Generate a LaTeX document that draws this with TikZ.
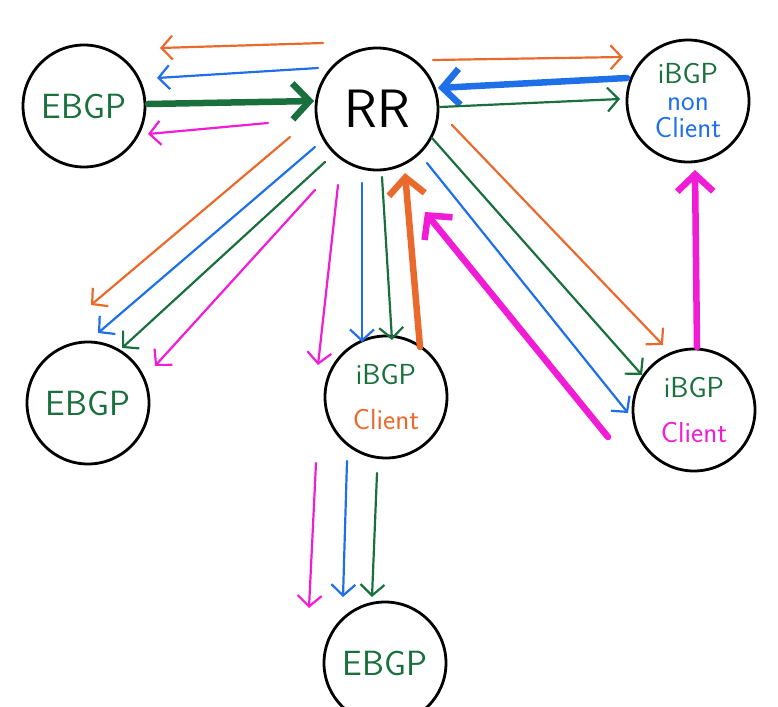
\documentclass[tikz,border=0pt]{standalone}
\usetikzlibrary{arrows.meta}
\definecolor{C0}{HTML}{1E6FE8}
\definecolor{C1}{HTML}{EA6A2E}
\definecolor{C2}{HTML}{19703C}
\definecolor{C6}{HTML}{F01CD6}
\newcommand{\bigfont}{\sffamily\fontsize{35}{38}\selectfont}
\newcommand{\smallfont}{\sffamily\fontsize{29}{27}\selectfont}
\tikzset{
    bubble/.style = {circle, draw, line width = 2.8pt, minimum size = 122pt, inner sep = 0pt, align = center},
    adv/.style = {-{Straight Barb[length=11pt,width=24pt]}, line width = 2.2pt, line cap = round},
    bigadv/.style = {-{Straight Barb[length=17pt,width=36pt]}, line width = 6.5pt, line cap = round},
}

\begin{document}
\begin{tikzpicture}[x=1pt, y=-1pt]
    \useasboundingbox (0,0) rectangle (778,706);
    \clip (0,0) rectangle (778,706);
        % routers
        \node [bubble, font=\bigfont, text=C2] (e1) at (84,106) {EBGP};
        \node [bubble, font=\sffamily\fontsize{54}{56}\selectfont] (rr) at (377,109) {RR};
        \node [bubble, font=\smallfont] (nc) at (688,101) {\textcolor{C2}{iBGP}\\\textcolor{C0}{non}\\\textcolor{C0}{Client}};
        \node [bubble, font=\bigfont, text=C2] (e2) at (88,403) {EBGP};
        \node [bubble, font=\smallfont] (c1) at (386,397) {\textcolor{C2}{iBGP}\\[18pt]\textcolor{C1}{Client}};
        \node [bubble, font=\smallfont] (c2) at (694,410) {\textcolor{C2}{iBGP}\\[18pt]\textcolor{C6}{Client}};
        \node [bubble, font=\bigfont, text=C2] (e3) at (385,663) {EBGP};
        % RR <-> EBGP top
        \draw [adv, C1] ([shift={(-54,-66)}]rr.center) -- ([shift={(76,-58)}]e1.center);
        \draw [adv, C0] ([shift={(-59,-41)}]rr.center) -- ([shift={(73,-28)}]e1.center);
        \draw [bigadv, C2] ([shift={(64,-2)}]e1.center) -- ([shift={(-63,-8)}]rr.center);
        \draw [adv, C6] ([shift={(-109,14)}]rr.center) -- ([shift={(64,28)}]e1.center);
        % RR <-> non client
        \draw [adv, C1] ([shift={(56,-49)}]rr.center) -- ([shift={(-65,-44)}]nc.center);
        \draw [bigadv, C0] ([shift={(-61,-23)}]nc.center) -- ([shift={(61,-21)}]rr.center);
        \draw [adv, C2] ([shift={(63,-2)}]rr.center) -- ([shift={(-68,-2)}]nc.center);
        % RR -> EBGP left
        \draw [adv, C1] ([shift={(-87,28)}]rr.center) -- ([shift={(3,-98)}]e2.center);
        \draw [adv, C0] ([shift={(-62,38)}]rr.center) -- ([shift={(10,-70)}]e2.center);
        \draw [adv, C2] ([shift={(-52,53)}]rr.center) -- ([shift={(34,-55)}]e2.center);
        \draw [adv, C6] ([shift={(-62,81)}]rr.center) -- ([shift={(67,-37)}]e2.center);
        % RR <-> client 1
        \draw [adv, C6] ([shift={(-39,76)}]rr.center) -- ([shift={(-68,-32)}]c1.center);
        \draw [adv, C0] ([shift={(-15,74)}]rr.center) -- ([shift={(-24,-55)}]c1.center);
        \draw [adv, C2] ([shift={(5,68)}]rr.center) -- ([shift={(6,-57)}]c1.center);
        \draw [bigadv, C1] ([shift={(34,-50)}]c1.center) -- ([shift={(28,64)}]rr.center);
        % RR <-> client 2
        \draw [adv, C1] ([shift={(75,16)}]rr.center) -- ([shift={(-31,-65)}]c2.center);
        \draw [adv, C2] ([shift={(55,29)}]rr.center) -- ([shift={(-52,-35)}]c2.center);
        \draw [adv, C0] ([shift={(50,54)}]rr.center) -- ([shift={(-66,3)}]c2.center);
        \draw [bigadv, C6] ([shift={(-86,27)}]c2.center) -- ([shift={(48,103)}]rr.center);
        \draw [bigadv, C6] ([shift={(3,-63)}]c2.center) -- ([shift={(7,69)}]nc.center);
        % client 1 -> EBGP bottom
        \draw [adv, C6] ([shift={(-70,66)}]c1.center) -- ([shift={(-76,-55)}]e3.center);
        \draw [adv, C0] ([shift={(-39,64)}]c1.center) -- ([shift={(-42,-66)}]e3.center);
        \draw [adv, C2] ([shift={(-9,76)}]c1.center) -- ([shift={(-13,-66)}]e3.center);
\end{tikzpicture}
\end{document}
